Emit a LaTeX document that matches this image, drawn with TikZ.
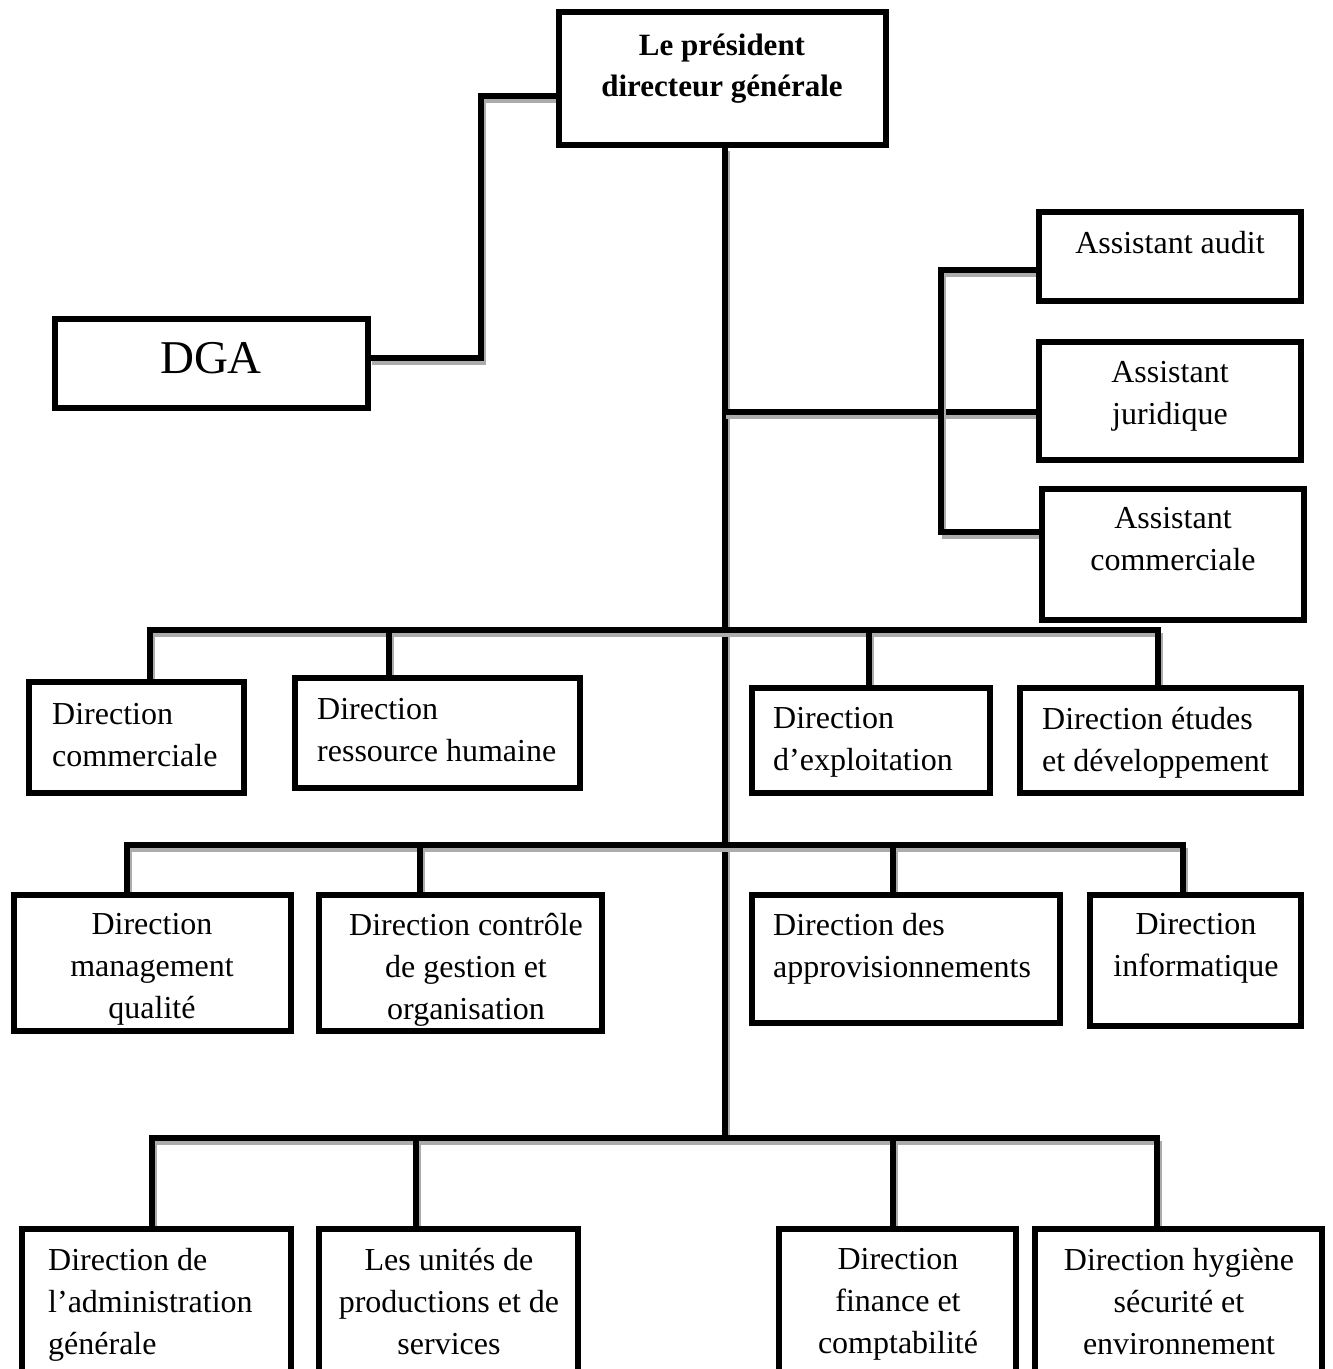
\documentclass[tikz,border=0pt]{standalone}
\usepackage{fontspec}
\setmainfont{Liberation Serif}
\pgfdeclarelayer{bg}
\pgfsetlayers{bg,main}
\begin{document}
\begin{tikzpicture}[x=1pt,y=-1pt,
  boxst/.style={draw=black,line width=6pt,fill=white,inner sep=0pt,rectangle},
  txt/.style={inner sep=0pt,font=\fontsize{32}{42}\selectfont},
  txtc/.style={txt,align=center,anchor=north},
  txtl/.style={txt,align=left,anchor=north west},
  shd/.style={draw=gray!65,line width=4pt,line cap=rect,transform canvas={shift={(3pt,-4.5pt)}}},
  ln/.style={draw=black,line width=6pt,line cap=rect,line join=miter}]
\useasboundingbox (0,0) rectangle (1333,1369);
\clip (0,0) rectangle (1333,1369);
\newcommand\bx[5]{\node[boxst,minimum width={(#4-#2)*1pt},minimum height={(#5-#3)*1pt}] (#1) at ({(#2+#4)/2},{(#3+#5)/2}) {};}
\newcommand\cn[1]{\begin{pgfonlayer}{bg}\draw[shd] #1; \draw[ln] #1;\end{pgfonlayer}}
% boxes
\bx{pdg}{559}{12}{886}{145}
\bx{dga}{55}{319}{368}{408}
\bx{audit}{1039}{212}{1301}{301}
\bx{jur}{1039}{342}{1301}{460}
\bx{acom}{1042}{489}{1304}{620}
\bx{dcom}{29}{682}{244}{793}
\bx{drh}{295}{678}{580}{788}
\bx{dexp}{752}{688}{990}{793}
\bx{detu}{1020}{688}{1301}{793}
\bx{dmq}{14}{895}{291}{1031}
\bx{dcg}{319}{895}{602}{1031}
\bx{dapp}{752}{895}{1060}{1023}
\bx{dinf}{1090}{895}{1301}{1026}
\bx{dadm}{22}{1229}{291}{1400}
\bx{duni}{319}{1229}{578}{1400}
\bx{dfin}{779}{1229}{1016}{1400}
\bx{dhyg}{1035}{1229}{1322}{1400}
% coordinates
\coordinate (dk1) at (481,358);
\coordinate (dk2) at (481,96);
\coordinate (tb) at (725,1138);
\coordinate (tj) at (725,412);
\coordinate (brtop) at (941,270);
\coordinate (brbot) at (941,532);
\coordinate (b1a) at (150,630);
\coordinate (b1b) at (389,630);
\coordinate (b1c) at (869,630);
\coordinate (b1d) at (1158,630);
\coordinate (b2a) at (127,845);
\coordinate (b2b) at (420,845);
\coordinate (b2c) at (893,845);
\coordinate (b2d) at (1183,845);
\coordinate (b3a) at (152,1138);
\coordinate (b3b) at (416,1138);
\coordinate (b3c) at (893,1138);
\coordinate (b3d) at (1157,1138);
% connectors
\cn{(dga.east |- dk1) -- (dk1) -- (dk2) -- (dk2 -| pdg.west)}
\cn{(tb |- pdg.south) -- (tb)}
\cn{(tj) -- (tj -| jur.west)}
\cn{(audit.west |- brtop) -- (brtop) -- (brbot) -- (brbot -| acom.west)}
\cn{(b1a) -- (b1d)}
\cn{(b1a) -- (b1a |- dcom.north)}
\cn{(b1b) -- (b1b |- drh.north)}
\cn{(b1c) -- (b1c |- dexp.north)}
\cn{(b1d) -- (b1d |- detu.north)}
\cn{(b2a) -- (b2d)}
\cn{(b2a) -- (b2a |- dmq.north)}
\cn{(b2b) -- (b2b |- dcg.north)}
\cn{(b2c) -- (b2c |- dapp.north)}
\cn{(b2d) -- (b2d |- dinf.north)}
\cn{(b3a) -- (b3d)}
\cn{(b3a) -- (b3a |- dadm.north)}
\cn{(b3b) -- (b3b |- duni.north)}
\cn{(b3c) -- (b3c |- dfin.north)}
\cn{(b3d) -- (b3d |- dhyg.north)}
% texts
\node[txtc,font=\fontsize{31}{41}\selectfont\bfseries] (tpdg) at (722,34) {Le président\\directeur générale};
\node[inner sep=0pt,font=\fontsize{47}{50}\selectfont] (tdga) at (211,358) {DGA};
\node[txtc] (taudit) at (1170,231) {Assistant audit};
\node[txtc] (tjur) at (1170,361) {Assistant\\juridique};
\node[txtc] (tacom) at (1173,507) {Assistant\\commerciale};
\node[txtl] (tdcom) at (52,703) {Direction\\commerciale};
\node[txtl] (tdrh) at (317,698) {Direction\\ressource humaine};
\node[txtl] (tdexp) at (773,707) {Direction\\d’exploitation};
\node[txtl] (tdetu) at (1042,707) {Direction études\\et développement};
\node[txtc] (tdmq) at (152,913) {Direction\\management\\qualité};
\node[txtc] (tdcg) at (466,913) {Direction contrôle\\de gestion et\\organisation};
\node[txtl] (tdapp) at (773,913) {Direction des\\approvisionnements};
\node[txtc] (tdinf) at (1196,913) {Direction\\informatique};
\node[txtl] (tdadm) at (48,1248) {Direction de\\l’administration\\générale};
\node[txtc] (tduni) at (449,1248) {Les unités de\\productions et de\\services};
\node[txtc] (tdfin) at (898,1248) {Direction\\finance et\\comptabilité};
\node[txtc] (tdhyg) at (1179,1248) {Direction hygiène\\sécurité et\\environnement};
\end{tikzpicture}
\end{document}
